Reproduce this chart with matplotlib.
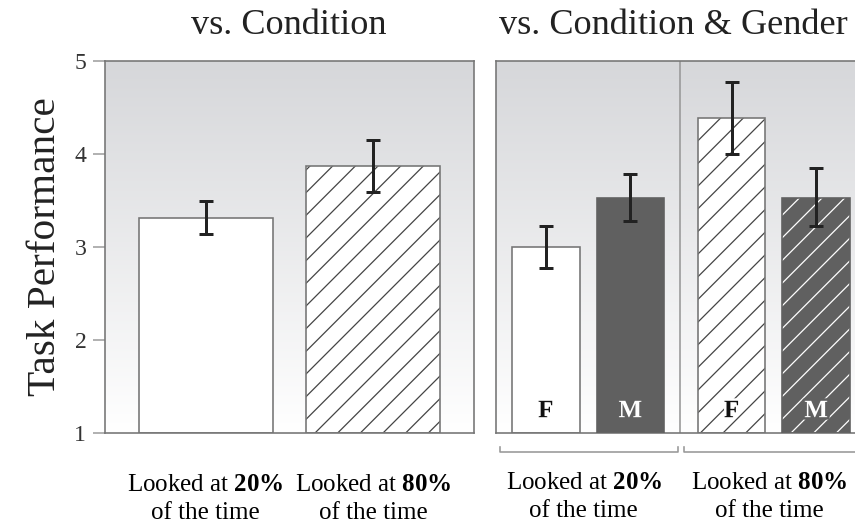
import matplotlib.pyplot as plt
import matplotlib.patheffects as pe
from matplotlib.colors import LinearSegmentedColormap
import numpy as np

# dpi klein damit die schraffur enger wird, s skaliert alle punktgroessen
DPI = 68
s = 90 / DPI

plt.rcParams["font.family"] = "Liberation Serif"
plt.rcParams["mathtext.fontset"] = "custom"
plt.rcParams["mathtext.rm"] = "Liberation Serif"
plt.rcParams["mathtext.bf"] = "Liberation Serif:bold"
plt.rcParams["hatch.linewidth"] = 1.0 * s

# daten
cond_labels = ["Looked at $\\mathbf{20\\%}$\nof the time", "Looked at $\\mathbf{80\\%}$\nof the time"]
cond_mean = [3.31, 3.87]
cond_lo = [3.14, 3.59]
cond_hi = [3.49, 4.15]

gender = ["F", "M", "F", "M"]
gen_mean = [3.00, 3.53, 4.39, 3.53]
gen_lo = [2.77, 3.28, 4.00, 3.23]
gen_hi = [3.23, 3.79, 4.77, 3.85]

yticks = [1, 2, 3, 4, 5]

grey = "#767676"
dark = "#606060"

fig = plt.figure(figsize=(855 / DPI, 526 / DPI), dpi=DPI)
ax1 = fig.add_axes([105 / 855, 93 / 526, 369 / 855, 372 / 526])
ax2 = fig.add_axes([496 / 855, 93 / 526, 370 / 855, 372 / 526])

# hintergrund verlauf
cmap = LinearSegmentedColormap.from_list("bg", ["#ffffff", "#d6d7da"])
grad = np.linspace(0, 1, 256).reshape(-1, 1)
for ax in (ax1, ax2):
    ax.imshow(grad, cmap=cmap, aspect="auto", extent=(0, 1, 0, 1), origin="lower",
              transform=ax.transAxes, zorder=0)
    ax.set_ylim(1, 5)
    for sp in ax.spines.values():
        sp.set_color(grey)
        sp.set_linewidth(1.3 * s)

# linkes panel
x1 = np.arange(len(cond_mean))
ax1.bar(x1[0], cond_mean[0] - 1, bottom=1, width=0.8, color="white", edgecolor=grey, linewidth=1.3 * s, zorder=2)
ax1.bar(x1[1], cond_mean[1] - 1, bottom=1, width=0.8, color="white", edgecolor="#444444", hatch="/", linewidth=0, zorder=2)
ax1.bar(x1[1], cond_mean[1] - 1, bottom=1, width=0.8, fill=False, edgecolor=grey, linewidth=1.3 * s, zorder=3)
err1 = [np.array(cond_mean) - np.array(cond_lo), np.array(cond_hi) - np.array(cond_mean)]
ax1.errorbar(x1, cond_mean, yerr=err1, fmt="none", ecolor="#222222", elinewidth=2.4 * s,
             capsize=5.5 * s, capthick=2.4 * s, zorder=4)
ax1.set_xlim(-0.6, 1.6)
ax1.set_xticks(x1)
ax1.set_xticklabels(cond_labels, fontsize=20 * s, linespacing=1.33)
ax1.tick_params(axis="x", length=0, pad=33 * s)
ax1.set_yticks(yticks)
ax1.tick_params(axis="y", length=10 * s, width=1.2 * s, color="#999999", labelsize=19 * s,
                labelcolor="#333333", pad=5 * s)
ax1.set_ylabel("Task Performance", fontsize=33 * s, labelpad=8 * s, color="#222222")

# rechtes panel
x2 = np.array([0, 1, 2.2, 3.2])
fills = ["white", dark, "white", dark]
hatches = [None, None, "/", "/"]
hcol = ["#444444", dark, "#444444", "white"]
for i in range(4):
    ax2.bar(x2[i], gen_mean[i] - 1, bottom=1, width=0.8, color=fills[i],
            edgecolor=hcol[i], hatch=hatches[i], linewidth=0, zorder=2)
    ax2.bar(x2[i], gen_mean[i] - 1, bottom=1, width=0.8, fill=False,
            edgecolor=grey if fills[i] == "white" else dark, linewidth=1.3 * s, zorder=3)
    tc = "#111111" if fills[i] == "white" else "white"
    ax2.text(x2[i], 1.24, gender[i], ha="center", va="center", fontsize=20 * s, fontweight="bold",
             color=tc, zorder=5,
             path_effects=[pe.withStroke(linewidth=4 * s, foreground=fills[i])])
err2 = [np.array(gen_mean) - np.array(gen_lo), np.array(gen_hi) - np.array(gen_mean)]
ax2.errorbar(x2, gen_mean, yerr=err2, fmt="none", ecolor="#222222", elinewidth=2.4 * s,
             capsize=5.5 * s, capthick=2.4 * s, zorder=4)
ax2.set_xlim(-0.59, 3.79)
ax2.axvline(1.59, color="#999999", linewidth=1.3 * s, zorder=1)
ax2.set_xticks([])
ax2.set_yticks([])

# klammern unter den gruppen
for a, b in [(-0.54, 1.57), (1.64, 3.85)]:
    ax2.plot([a, a, b, b], [0.85, 0.795, 0.795, 0.85], color="#999999", linewidth=1.3 * s, clip_on=False)
for xc, lab in zip([(x2[0] + x2[1]) / 2, (x2[2] + x2[3]) / 2], cond_labels):
    ax2.text(xc - 0.05, 0.58, lab, ha="center", va="top", fontsize=20 * s, linespacing=1.33,
             clip_on=False)

# titel
fig.text(289 / 855, 1 - 34 / 526, "vs. Condition", ha="center", va="baseline", fontsize=29 * s, color="#222222")
fig.text(673 / 855, 1 - 34 / 526, "vs. Condition & Gender", ha="center", va="baseline", fontsize=29 * s, color="#222222")

fig.savefig("out.png", dpi=DPI)
